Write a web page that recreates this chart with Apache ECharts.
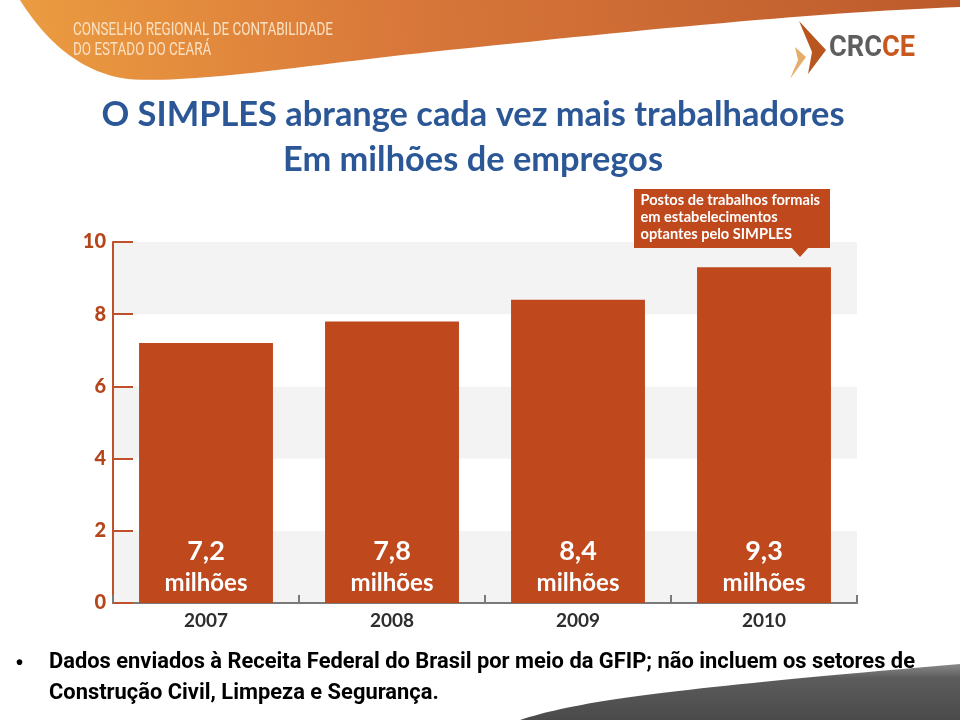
<!DOCTYPE html>
<html>
<head>
<meta charset="utf-8">
<script src="https://cdn.jsdelivr.net/npm/echarts@6/dist/echarts.min.js"></script>
<style>html,body{margin:0;padding:0;background:#fff}#c{width:960px;height:720px}</style>
</head>
<body>
<div id="c"></div>
<script>
const categories = ['2007', '2008', '2009', '2010'];
const values = [7.2, 7.8, 8.4, 9.3];
const yTicks = [0, 2, 4, 6, 8, 10];
const titleText = 'O SIMPLES abrange cada vez mais trabalhadores';
const subtitleText = 'Em milhões de empregos';
const calloutLines = ['Postos de trabalhos formais', 'em estabelecimentos', 'optantes pelo SIMPLES'];
const headerLines = ['CONSELHO REGIONAL DE CONTABILIDADE', 'DO ESTADO DO CEARÁ'];
const noteLines = ['Dados enviados à Receita Federal do Brasil por meio da GFIP; não incluem os setores de', 'Construção Civil, Limpeza e Segurança.'];

const BAR = '#bf481d';

const mctx = document.createElement('canvas').getContext('2d');
function fit(text, weight, family, width) {
  mctx.font = weight + ' 100px ' + family;
  return Math.round(100 * width / mctx.measureText(text).width * 10) / 10;
}
// horizontal squeeze that makes text of a given size span a given width (condensed look)
function squeeze(text, weight, size, family, width) {
  mctx.font = weight + ' ' + size + 'px ' + family;
  return width / mctx.measureText(text).width;
}
const titleSize = fit(titleText, 'bold', 'Lato', 743);
const calloutSize = fit(calloutLines[0], 'bold', 'Lato', 179);
const NOTE_FS = 22.5, HEAD_FS = 18, LOGO_FS = 30;
const noteScale = squeeze(noteLines[0], 'bold', NOTE_FS, 'Roboto', 866);
const headScale = squeeze(headerLines[0], 'normal', HEAD_FS, 'Roboto', 260);
const logoScale = squeeze('CRCCE', 'bold', LOGO_FS, 'Roboto', 86);

function cubic(p0, p1, p2, p3, n) {
  const out = [];
  for (let i = 0; i <= n; i++) {
    const t = i / n, u = 1 - t;
    out.push([
      u*u*u*p0[0] + 3*u*u*t*p1[0] + 3*u*t*t*p2[0] + t*t*t*p3[0],
      u*u*u*p0[1] + 3*u*u*t*p1[1] + 3*u*t*t*p2[1] + t*t*t*p3[1]
    ]);
  }
  return out;
}
const headerPts = [[20, 0], [960, 0], [960, 7]]
  .concat(cubic([960, 7], [820, 12], [640, 30], [430, 52], 30))
  .concat(cubic([430, 52], [300, 66], [190, 84], [128, 79], 30))
  .concat(cubic([128, 79], [80, 73], [45, 40], [20, 0], 30));
const footPts = [[960, 720], [520, 720]]
  .concat(cubic([520, 720], [580, 700], [680, 688], [960, 664], 40));

const chart = echarts.init(document.getElementById('c'), null, {renderer: 'canvas'});

const option = {
  backgroundColor: '#ffffff',
  animation: false,
  title: [
    {text: titleText, left: 468, top: 93, textAlign: 'center',
     textStyle: {fontFamily: 'Lato', fontWeight: 'bold', fontSize: titleSize, color: '#2b5797'}},
    {text: subtitleText, left: 468, top: 138, textAlign: 'center',
     textStyle: {fontFamily: 'Lato', fontWeight: 'bold', fontSize: titleSize, color: '#2b5797'}}
  ],
  grid: {left: 113, right: 103, top: 242, bottom: 117, containLabel: false},
  xAxis: {
    type: 'category',
    data: categories,
    axisLine: {show: true, lineStyle: {color: '#7a7a7a', width: 2}},
    axisTick: {show: true, inside: true, length: 8, lineStyle: {color: '#7a7a7a', width: 2}},
    axisLabel: {fontFamily: 'Lato', fontWeight: 'bold', fontSize: 19, color: '#2e2e2e', margin: 8}
  },
  yAxis: {
    type: 'value',
    min: yTicks[0], max: yTicks[yTicks.length - 1], interval: 2,
    axisLine: {show: true, lineStyle: {color: '#c0502a', width: 2}},
    axisTick: {show: true, inside: true, length: 20, lineStyle: {color: '#c0502a', width: 2}},
    axisLabel: {fontFamily: 'Lato', fontWeight: 900, fontSize: 20, color: '#b5461c', margin: 7},
    splitLine: {show: false},
    splitArea: {show: true, areaStyle: {color: ['#f3f3f3', '#ffffff']}}
  },
  series: [{
    type: 'bar',
    data: values,
    barCategoryGap: '28%',
    itemStyle: {color: BAR},
    label: {
      show: true,
      position: 'insideBottom',
      distance: 4,
      formatter: p => '{a|' + String(p.value).replace('.', ',') + '}\n{b|milhões}',
      rich: {
        a: {fontFamily: 'Lato', fontWeight: 'bold', fontSize: 27, color: '#fff', lineHeight: 32, align: 'center'},
        b: {fontFamily: 'Lato', fontWeight: 'bold', fontSize: 24, color: '#fff', lineHeight: 32, align: 'center'}
      }
    }
  }],
  graphic: [
    {type: 'polygon', z: 1, silent: true, shape: {points: headerPts},
     style: {fill: {type: 'linear', x: 1, y: 0, x2: 0, y2: 1, colorStops: [
        {offset: 0, color: '#bd5a2c'}, {offset: 0.6, color: '#d9783a'}, {offset: 1, color: '#eb9c40'}]}}},
    {type: 'text', left: 73, top: 21, z: 2, scaleX: headScale,
     style: {text: headerLines[0], font: HEAD_FS + 'px Roboto', fill: '#fbe0c2'}},
    {type: 'text', left: 73, top: 41, z: 2, scaleX: headScale,
     style: {text: headerLines[1], font: HEAD_FS + 'px Roboto', fill: '#fbe0c2'}},
    {type: 'polygon', z: 2, shape: {points: [[799, 21], [826, 50], [808, 74], [812, 52]]},
     style: {fill: '#b9561f'}},
    {type: 'polygon', z: 2, shape: {points: [[795, 47], [806, 57], [790, 79], [798, 60]]},
     style: {fill: '#e5ad6c'}},
    {type: 'text', left: 829, top: 33, z: 2, scaleX: logoScale,
     style: {text: '{a|CRC}{b|CE}',
       rich: {a: {fontFamily: 'Roboto', fontWeight: 'bold', fontSize: LOGO_FS, fill: '#5e5e5e'},
              b: {fontFamily: 'Roboto', fontWeight: 'bold', fontSize: LOGO_FS, fill: '#c9581f'}}}},
    {type: 'rect', z: 5, shape: {x: 634, y: 189, width: 196, height: 59}, style: {fill: BAR}},
    {type: 'polygon', z: 5, shape: {points: [[791, 247], [809, 247], [800, 257]]}, style: {fill: BAR}},
    {type: 'text', z: 6, left: 'auto', right: 140, top: 192,
     style: {text: calloutLines.join('\n'), font: 'bold ' + calloutSize + 'px Lato', fill: '#ffffff', align: 'right', lineHeight: 17}},
    {type: 'polygon', z: 1, silent: true, shape: {points: footPts},
     style: {fill: {type: 'linear', x: 0, y: 0, x2: 0, y2: 1, colorStops: [
       {offset: 0, color: '#8a8a8a'}, {offset: 0.25, color: '#5c5c5c'}, {offset: 1, color: '#4a4a4a'}]}}},
    {type: 'text', left: 16, top: 653, z: 3, style: {text: '•', font: 'bold 20px Arial', fill: '#000'}},
    {type: 'text', left: 49, top: 651, z: 3, scaleX: noteScale,
     style: {text: noteLines[0], font: 'bold ' + NOTE_FS + 'px Roboto', fill: '#000000'}},
    {type: 'text', left: 49, top: 682, z: 3, scaleX: noteScale,
     style: {text: noteLines[1], font: 'bold ' + NOTE_FS + 'px Roboto', fill: '#000000'}}
  ]
};
chart.setOption(option);
</script>
</body>
</html>
